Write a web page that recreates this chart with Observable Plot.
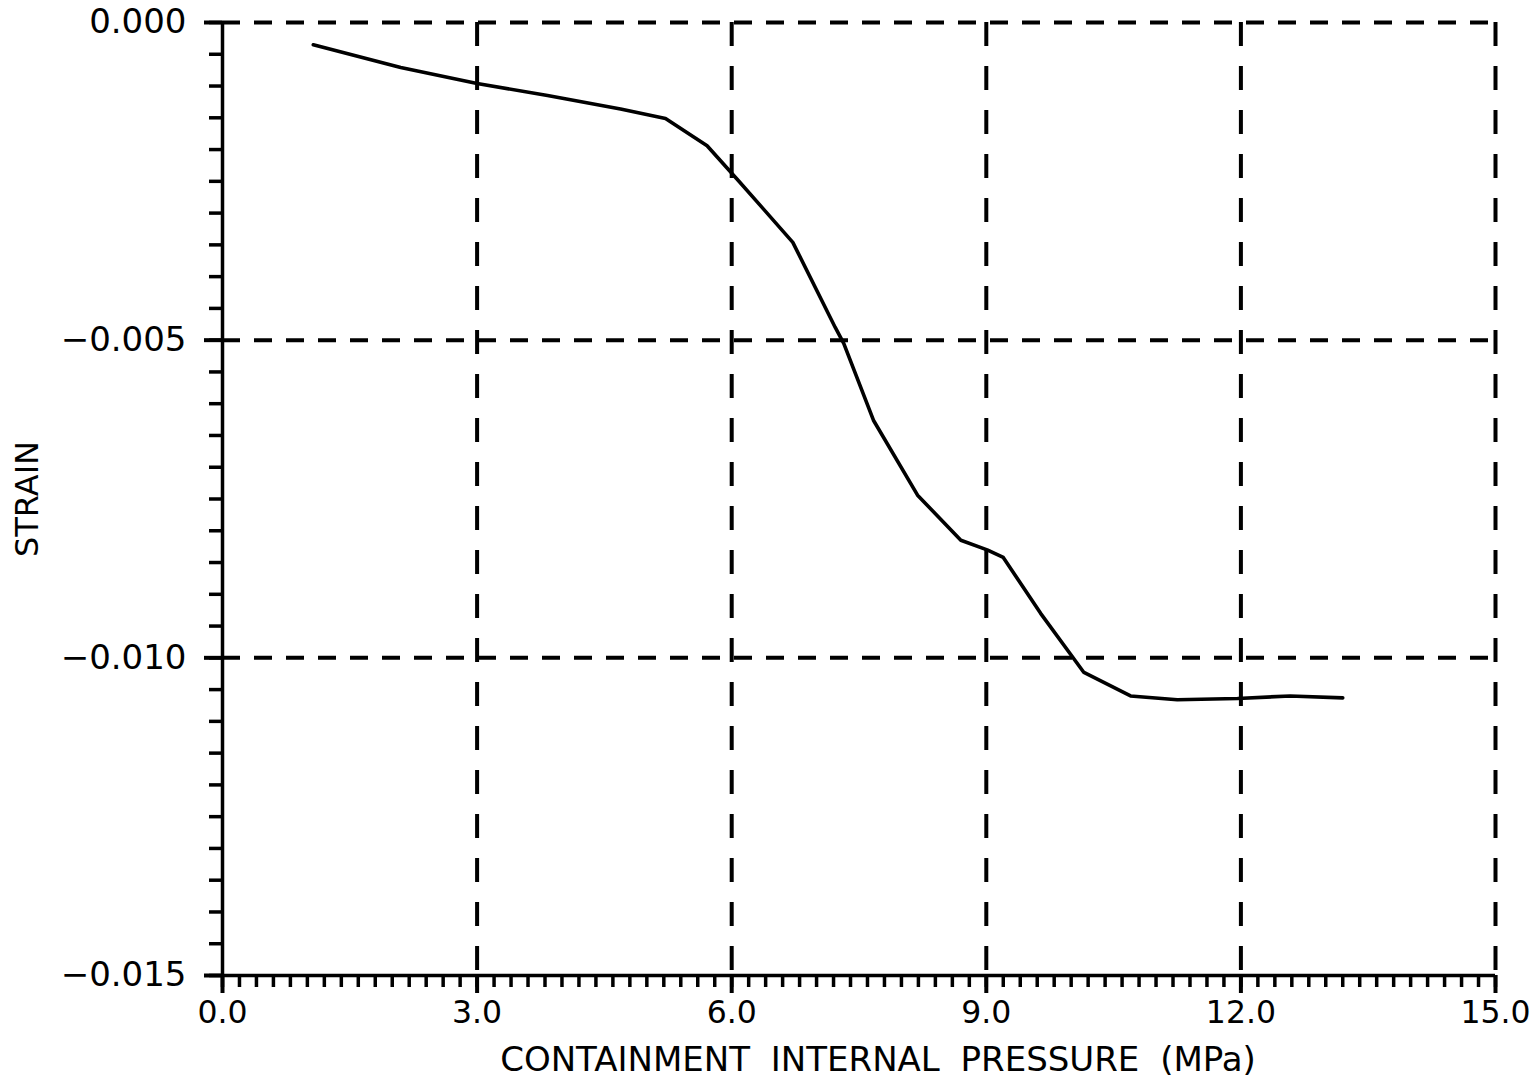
<!DOCTYPE html>
<html>
<head>
<meta charset="utf-8">
<script src="https://cdn.jsdelivr.net/npm/d3@7"></script>
<script src="https://cdn.jsdelivr.net/npm/@observablehq/plot@0.6"></script>
<style>
  html, body { margin: 0; padding: 0; background: #fff; }
  #chart svg { display: block; }
  #chart g[aria-label="x-axis label"] text { word-spacing: 10px; }
</style>
</head>
<body>
<div id="chart"></div>
<script>
// Data
const pressure = [1.07, 2.1, 3.0, 3.83, 4.69, 5.22, 5.71, 6.08, 6.72, 7.22, 7.32, 7.67, 8.19, 8.70, 9.01, 9.20, 9.64, 10.15, 10.70, 11.25, 11.96, 12.58, 13.2];
const strain   = [-0.00035, -0.00071, -0.00096, -0.00115, -0.00136, -0.00151, -0.00194, -0.00249, -0.00346, -0.0048, -0.00505, -0.00626, -0.00744, -0.00815, -0.0083, -0.00842, -0.0093, -0.01023, -0.0106, -0.01066, -0.01064, -0.0106, -0.01063];

const xTicks = [0, 3, 6, 9, 12, 15];
const yTicks = [0, -0.005, -0.010, -0.015];
const xGrid = [3, 6, 9, 12, 15];
const yGrid = [0, -0.005, -0.010];
const xMinor = d3.range(0, 15.001, 0.2);
const yMinor = d3.range(0, -0.01501, -0.0005);

const xLabel = "CONTAINMENT INTERNAL PRESSURE (MPa)";
const yLabel = "STRAIN";

const points = pressure.map((p, i) => ({p, s: strain[i]}));

const chart = Plot.plot({
  width: 1530,
  height: 1080,
  marginLeft: 222,
  marginRight: 35,
  marginTop: 22,
  marginBottom: 105,
  style: {fontFamily: "'DejaVu Sans', Verdana, sans-serif", background: "#fff", color: "#000"},
  x: {domain: [0, 15]},
  y: {domain: [-0.015, 0]},
  marks: [
    Plot.gridX(xGrid, {stroke: "#000", strokeOpacity: 1, strokeWidth: 4, strokeDasharray: "24,20"}),
    Plot.gridY(yGrid, {stroke: "#000", strokeOpacity: 1, strokeWidth: 4, strokeDasharray: "18,14"}),
    Plot.ruleY([-0.015], {stroke: "#000", strokeWidth: 3.5}),
    Plot.ruleX([0], {stroke: "#000", strokeWidth: 3.5}),
    Plot.axisX(xMinor, {tickSize: 12, tickFormat: () => "", strokeWidth: 3.5, label: null}),
    Plot.axisY(yMinor, {tickSize: 13, tickFormat: () => "", strokeWidth: 3.5, label: null}),
    Plot.axisX(xTicks, {tickSize: 18, tickPadding: 7, strokeWidth: 4, tickFormat: d3.format(".1f"), fontSize: 31.5, label: null}),
    Plot.axisY(yTicks, {tickSize: 18, tickPadding: 18, strokeWidth: 4, tickFormat: d3.format(".3f"), fontSize: 34, label: null}),
    Plot.axisX([], {label: xLabel, labelAnchor: "center", labelArrow: "none", labelOffset: 95, fontSize: 34, tickSize: 0}),
    Plot.axisY([], {label: yLabel, labelAnchor: "center", labelArrow: "none", labelOffset: 207, fontSize: 32, tickSize: 0}),
    Plot.line(points, {x: "p", y: "s", stroke: "#000", strokeWidth: 3.6})
  ]
});
// nudge the x-axis title to the right, as in the reference
const xl = chart.querySelector('g[aria-label="x-axis label"]');
if (xl) {
  const t = xl.getAttribute("transform") || "";
  xl.setAttribute("transform", "translate(19,0) " + t);
}
document.getElementById("chart").append(chart);
</script>
</body>
</html>
